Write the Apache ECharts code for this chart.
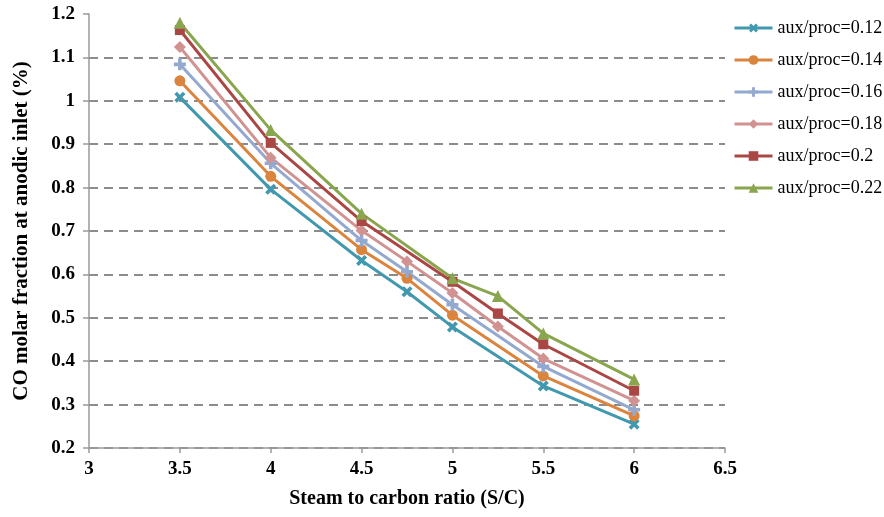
<!DOCTYPE html>
<html>
<head>
<meta charset="utf-8">
<script src="https://cdn.jsdelivr.net/npm/echarts@6/dist/echarts.min.js"></script>
<style>
  html, body { margin: 0; padding: 0; background: #fff; }
  #chart { width: 884px; height: 517px; }
</style>
</head>
<body>
<div id="chart"></div>
<script>
// Steam-to-carbon ratios sampled for each aux/proc setting
const scA = [3.5, 4, 4.5, 4.75, 5, 5.5, 6];
const scB = [3.5, 4, 4.5, 4.75, 5, 5.25, 5.5, 6];
const scC = [3.5, 4, 4.5, 5, 5.25, 5.5, 6];

// CO molar fraction at the anodic inlet (%)
const co012 = [1.008, 0.796, 0.632, 0.560, 0.479, 0.343, 0.255];
const co014 = [1.046, 0.826, 0.657, 0.591, 0.506, 0.366, 0.274];
const co016 = [1.084, 0.856, 0.678, 0.606, 0.530, 0.388, 0.288];
const co018 = [1.124, 0.869, 0.701, 0.630, 0.557, 0.480, 0.406, 0.309];
const co020 = [1.163, 0.903, 0.723, 0.583, 0.510, 0.439, 0.332];
const co022 = [1.180, 0.933, 0.740, 0.591, 0.550, 0.464, 0.358];

const seriesNames = ['aux/proc=0.12', 'aux/proc=0.14', 'aux/proc=0.16',
                     'aux/proc=0.18', 'aux/proc=0.2', 'aux/proc=0.22'];

const plusPath = 'path://M3.5,0 H6.5 V3.5 H10 V6.5 H6.5 V10 H3.5 V6.5 H0 V3.5 H3.5 Z';

const defs = [
  { x: scA, y: co012, color: '#4198AF', symbol: plusPath, rotate: 45, size: 12 },
  { x: scA, y: co014, color: '#DB843D', symbol: 'circle', rotate: 0, size: 11 },
  { x: scA, y: co016, color: '#93A9CF', symbol: plusPath, rotate: 0, size: 12 },
  { x: scB, y: co018, color: '#D19392', symbol: 'diamond', rotate: 0, size: 12 },
  { x: scC, y: co020, color: '#AA4643', symbol: 'rect', rotate: 0, size: 10 },
  { x: scC, y: co022, color: '#89A54E', symbol: 'triangle', rotate: 0, size: 12 }
];

const serif = '"Liberation Serif", "Times New Roman", serif';

// Hide the split line that would sit on top of the plot (at 1.2)
const gridColors = [];
for (let i = 0; i < 11; i++) gridColors.push(i === 10 ? 'rgba(0,0,0,0)' : '#8C8C8C');

const chart = echarts.init(document.getElementById('chart'), null, { renderer: 'canvas' });
chart.setOption({
  animation: false,
  backgroundColor: '#ffffff',
  grid: { left: 89, top: 14, right: 159, bottom: 69, containLabel: false },
  legend: {
    orient: 'vertical',
    left: 728,
    top: 14,
    itemWidth: 38,
    itemHeight: 12,
    itemGap: 14,
    lineStyle: { width: 3 },
    textStyle: { fontFamily: serif, fontSize: 18, color: '#000' },
    data: seriesNames
  },
  xAxis: {
    type: 'value',
    min: 3, max: 6.5, interval: 0.5,
    name: 'Steam to carbon ratio (S/C)',
    nameLocation: 'middle',
    nameGap: 41,
    nameTextStyle: { fontFamily: serif, fontSize: 20, fontWeight: 'bold', color: '#000' },
    axisLine: { lineStyle: { color: '#9A9A9A', width: 1.5 } },
    axisTick: { show: true, length: 5, lineStyle: { color: '#9A9A9A', width: 1.5 } },
    axisLabel: { fontFamily: serif, fontSize: 19, fontWeight: 'bold', color: '#000', margin: 12 },
    splitLine: { show: false }
  },
  yAxis: {
    type: 'value',
    min: 0.2, max: 1.2, interval: 0.1,
    name: 'CO molar fraction at anodic inlet (%)',
    nameLocation: 'middle',
    nameGap: 57,
    nameTextStyle: { fontFamily: serif, fontSize: 21, fontWeight: 'bold', color: '#000' },
    axisLine: { show: true, lineStyle: { color: '#9A9A9A', width: 1.5 } },
    axisTick: { show: true, length: 6, lineStyle: { color: '#9A9A9A', width: 1.5 } },
    axisLabel: {
      fontFamily: serif, fontSize: 19, fontWeight: 'bold', color: '#000', margin: 14,
      formatter: v => String(Math.round(v * 10) / 10)
    },
    splitLine: { show: true, lineStyle: { color: gridColors, width: 2, type: [9, 6] } }
  },
  series: defs.map((d, i) => ({
    name: seriesNames[i],
    type: 'line',
    data: d.x.map((x, k) => [x, d.y[k]]),
    symbol: d.symbol,
    symbolSize: d.size,
    symbolRotate: d.rotate,
    showAllSymbol: true,
    lineStyle: { color: d.color, width: 3 },
    itemStyle: { color: d.color, borderWidth: 0 },
    emphasis: { disabled: true }
  }))
});
</script>
</body>
</html>
